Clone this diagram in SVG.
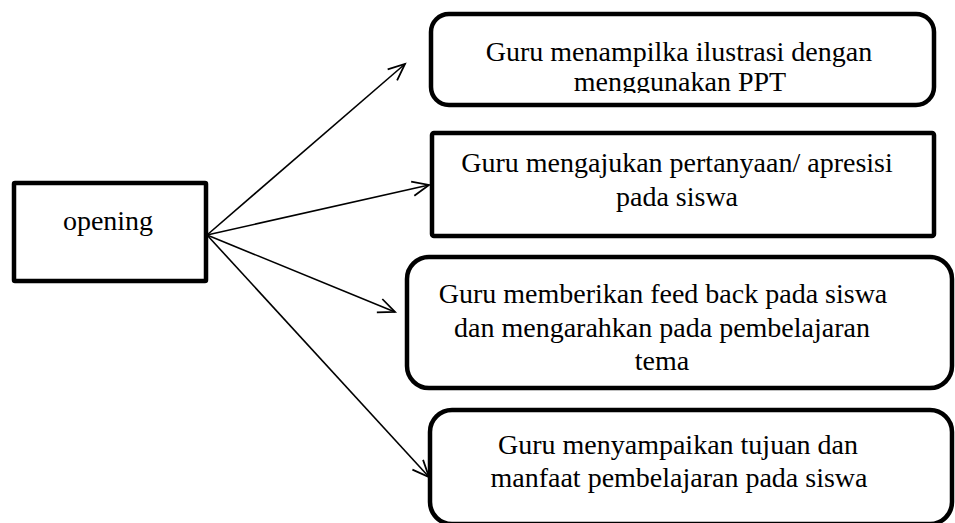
<svg xmlns="http://www.w3.org/2000/svg" width="955" height="523" viewBox="0 0 955 523">
  <style>
    .box { fill: #fff; stroke: #000; stroke-width: 4.5; }
    .label { font-family: "Liberation Serif", "Times New Roman", serif; font-size: 28px; fill: #000; text-anchor: middle; }
    .link { fill: none; stroke: #000; stroke-width: 1.6; marker-end: url(#open-arrow); }
  </style>
  <defs>
    <marker id="open-arrow" markerUnits="userSpaceOnUse" markerWidth="20" markerHeight="20" viewBox="-16 -8 18 16" refX="0" refY="0" orient="auto">
      <path d="M-15,-6.5 L0,0 L-15,6.5" fill="none" stroke="#000" stroke-width="1.6"/>
    </marker>
    <clipPath id="ppt-clip">
      <rect x="431" y="14" width="503" height="79"/>
    </clipPath>
  </defs>

  <g id="connectors">
    <line class="link" x1="207" y1="235" x2="405" y2="64"/>
    <line class="link" x1="207" y1="235" x2="429" y2="185"/>
    <line class="link" x1="207" y1="235" x2="395" y2="312"/>
    <line class="link" x1="207" y1="235" x2="429" y2="477"/>
  </g>

  <g id="opening">
    <rect class="box" x="14" y="183" width="192" height="98" rx="1"/>
    <text class="label" x="108" y="230">opening</text>
  </g>

  <g id="step-ilustrasi">
    <rect class="box" x="431" y="14" width="503" height="91" rx="18"/>
    <g clip-path="url(#ppt-clip)">
      <text class="label" x="679" y="61">Guru menampilka ilustrasi dengan</text>
      <text class="label" x="680" y="91">menggunakan PPT</text>
    </g>
  </g>

  <g id="step-pertanyaan">
    <rect class="box" x="432" y="133" width="502" height="103" rx="2"/>
    <text class="label" x="677" y="172">Guru mengajukan pertanyaan/ apresisi</text>
    <text class="label" x="677" y="206">pada siswa</text>
  </g>

  <g id="step-feedback">
    <rect class="box" x="407" y="257" width="545" height="131" rx="22"/>
    <text class="label" x="663" y="303">Guru memberikan feed back pada siswa</text>
    <text class="label" x="662" y="337">dan mengarahkan pada pembelajaran</text>
    <text class="label" x="662" y="370">tema</text>
  </g>

  <g id="step-tujuan">
    <rect class="box" x="430" y="410" width="522" height="114" rx="22"/>
    <text class="label" x="678" y="454">Guru menyampaikan tujuan dan</text>
    <text class="label" x="679" y="487">manfaat pembelajaran pada siswa</text>
  </g>
</svg>
